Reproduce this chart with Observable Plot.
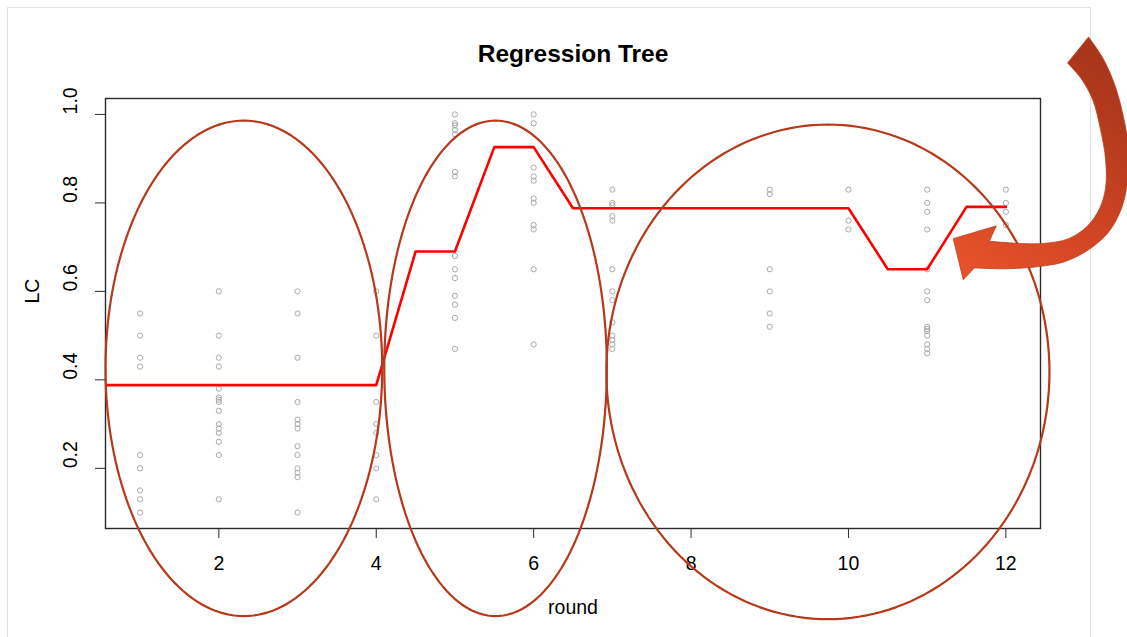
<!DOCTYPE html>
<html>
<head>
<meta charset="utf-8">
<script src="https://cdn.jsdelivr.net/npm/d3@7"></script>
<script src="https://cdn.jsdelivr.net/npm/@observablehq/plot@0.6"></script>
<style>
  html, body { margin: 0; padding: 0; background: #fff; overflow: hidden; }
  #wrap { position: relative; width: 1127px; height: 637px; }
  #sheet { position: absolute; left: 7px; top: 7px; width: 1084px; height: 700px;
           border: 1px solid #e3e3e3; box-sizing: border-box; }
  #chart { position: absolute; left: 0; top: 0; }
</style>
</head>
<body>
<div id="wrap"><div id="sheet"></div><div id="chart"></div></div>
<script>
// Observed LC values per round
const lcRound1  = [0.55, 0.50, 0.45, 0.43, 0.23, 0.20, 0.15, 0.13, 0.10];
const lcRound2  = [0.60, 0.50, 0.45, 0.43, 0.38, 0.36, 0.355, 0.35, 0.33, 0.30, 0.29, 0.28, 0.26, 0.23, 0.13];
const lcRound3  = [0.60, 0.55, 0.45, 0.35, 0.31, 0.30, 0.29, 0.25, 0.23, 0.20, 0.19, 0.18, 0.10];
const lcRound4  = [0.60, 0.50, 0.35, 0.30, 0.28, 0.23, 0.20, 0.13];
const lcRound5  = [1.00, 0.98, 0.975, 0.965, 0.955, 0.87, 0.86, 0.68, 0.65, 0.63, 0.59, 0.57, 0.54, 0.47];
const lcRound6  = [1.00, 0.98, 0.88, 0.86, 0.85, 0.81, 0.80, 0.75, 0.74, 0.65, 0.48];
const lcRound7  = [0.83, 0.80, 0.795, 0.77, 0.76, 0.65, 0.60, 0.58, 0.53, 0.50, 0.49, 0.48, 0.47];
const lcRound9  = [0.83, 0.82, 0.65, 0.60, 0.55, 0.52];
const lcRound10 = [0.83, 0.76, 0.74];
const lcRound11 = [0.83, 0.80, 0.78, 0.74, 0.65, 0.60, 0.58, 0.52, 0.515, 0.51, 0.50, 0.48, 0.47, 0.46];
const lcRound12 = [0.83, 0.80, 0.78, 0.75];

const rounds = [1, 2, 3, 4, 5, 6, 7, 9, 10, 11, 12];
const lcByRound = [lcRound1, lcRound2, lcRound3, lcRound4, lcRound5, lcRound6,
                   lcRound7, lcRound9, lcRound10, lcRound11, lcRound12];

// Regression tree prediction evaluated on a half-round grid
const treeRound = [0.5, 1, 1.5, 2, 2.5, 3, 3.5, 4, 4.5, 5, 5.5, 6,
                   6.5, 7, 7.5, 8, 8.5, 9, 9.5, 10, 10.5, 11, 11.5, 12];
const treeLC    = [0.388, 0.388, 0.388, 0.388, 0.388, 0.388, 0.388, 0.388, 0.690, 0.690, 0.926, 0.926,
                   0.788, 0.788, 0.788, 0.788, 0.788, 0.788, 0.788, 0.788, 0.650, 0.650, 0.791, 0.791];

// Axis ticks
const xTicks = [2, 4, 6, 8, 10, 12];
const yTicks = [0.2, 0.4, 0.6, 0.8, 1.0];

// Highlighted phases (ellipses, in round / LC units)
const phaseCenterRound = [2.318, 5.516, 9.739];
const phaseCenterLC    = [0.426, 0.426, 0.418];
const phaseHalfRound   = [1.758, 1.414, 2.815];
const phaseHalfLC      = [0.560, 0.560, 0.559];

// Curved call-out arrow outline (round / LC units)
const arrowOuter = [[13.057, 1.174], [13.236, 1.127], [13.389, 1.066], [13.503, 0.991], [13.567, 0.919],
                    [13.554, 0.851], [13.478, 0.788], [13.312, 0.733], [13.057, 0.693], [12.752, 0.666],
                    [12.471, 0.656], [12.025, 0.650], [11.605, 0.652]];
const arrowHead  = [[11.465, 0.625], [11.338, 0.718], [11.885, 0.747], [11.796, 0.712]];
const arrowInner = [[12.089, 0.708], [12.471, 0.707], [12.803, 0.718], [13.040, 0.746], [13.197, 0.786],
                    [13.274, 0.833], [13.274, 0.896], [13.210, 0.964], [13.110, 1.032], [12.958, 1.081],
                    [12.790, 1.115]];

const points = rounds.flatMap((r, i) => lcByRound[i].map(lc => ({round: r, lc})));
const tree = treeRound.map((r, i) => ({round: r, lc: treeLC[i]}));
const ellipses = phaseCenterRound.flatMap((cx, i) =>
  d3.range(0, 361, 2).map(a => {
    const t = a * Math.PI / 180;
    return {id: i, round: cx + phaseHalfRound[i] * Math.cos(t), lc: phaseCenterLC[i] + phaseHalfLC[i] * Math.sin(t)};
  })
);

// Draws the filled curved arrow through the plot's scales
function arrow(index, scales) {
  const pt = ([r, v]) => [scales.x(r), scales.y(v)];
  const smooth = d3.line().curve(d3.curveCatmullRom.alpha(0.5));
  const outer = smooth(arrowOuter.map(pt));
  const head = arrowHead.map(pt).map(([a, b]) => `L${a},${b}`).join("");
  const inner = smooth(arrowInner.map(pt)).replace(/^M/, "L");
  const g = d3.create("svg:g");
  const grad = g.append("defs").append("linearGradient")
    .attr("id", "arrow-fill").attr("x1", "0.6").attr("y1", "0").attr("x2", "0.1").attr("y2", "1");
  grad.append("stop").attr("offset", "0").attr("stop-color", "#a9361b");
  grad.append("stop").attr("offset", "0.55").attr("stop-color", "#cf4424");
  grad.append("stop").attr("offset", "1").attr("stop-color", "#e8522a");
  g.append("path").attr("d", outer + head + inner + "Z")
    .attr("fill", "url(#arrow-fill)").attr("stroke", "#b8401f").attr("stroke-width", 0.8);
  return g.node();
}

const chart = Plot.plot({
  width: 1127,
  height: 637,
  marginLeft: 105,
  marginRight: 87,
  marginTop: 98,
  marginBottom: 109,
  style: {fontFamily: "'Liberation Sans', Arial, sans-serif", fontSize: "19.5px", color: "#000", background: "transparent", overflow: "visible"},
  x: {domain: [0.56, 12.44], label: null},
  y: {domain: [0.064, 1.036], label: null},
  marks: [
    Plot.frame({stroke: "#2a2a2a", strokeWidth: 1.4}),
    Plot.axisX({ticks: xTicks, tickSize: 10, tickPadding: 18, label: null, stroke: "#2a2a2a", fontSize: 19.5}),
    Plot.axisY({ticks: yTicks, tickSize: 10, tickFormat: () => "", label: null, stroke: "#2a2a2a"}),
    Plot.text(yTicks, {y: d => d, text: d => d.toFixed(1), frameAnchor: "left", dx: -35, rotate: -90, fontSize: 19.5, fill: "#000"}),
    Plot.text(["Regression Tree"], {frameAnchor: "top", dy: -44, lineAnchor: "middle", fontWeight: "bold", fontSize: 24.5, fill: "#000"}),
    Plot.text(["round"], {frameAnchor: "bottom", dy: 79, lineAnchor: "middle", fontSize: 19.5, fill: "#000"}),
    Plot.text(["LC"], {frameAnchor: "left", dx: -73, dy: -10, rotate: -90, fontSize: 19.5, fill: "#000"}),
    Plot.dot(points, {x: "round", y: "lc", r: 2.6, stroke: "#a9a9a9", strokeWidth: 1, fill: "none"}),
    Plot.line(tree, {x: "round", y: "lc", stroke: "#ff0000", strokeWidth: 2.6, clip: true}),
    Plot.line(ellipses, {x: "round", y: "lc", z: "id", stroke: "#b5391a", strokeWidth: 2.2}),
    arrow
  ]
});

document.getElementById("chart").appendChild(chart);
</script>
</body>
</html>
